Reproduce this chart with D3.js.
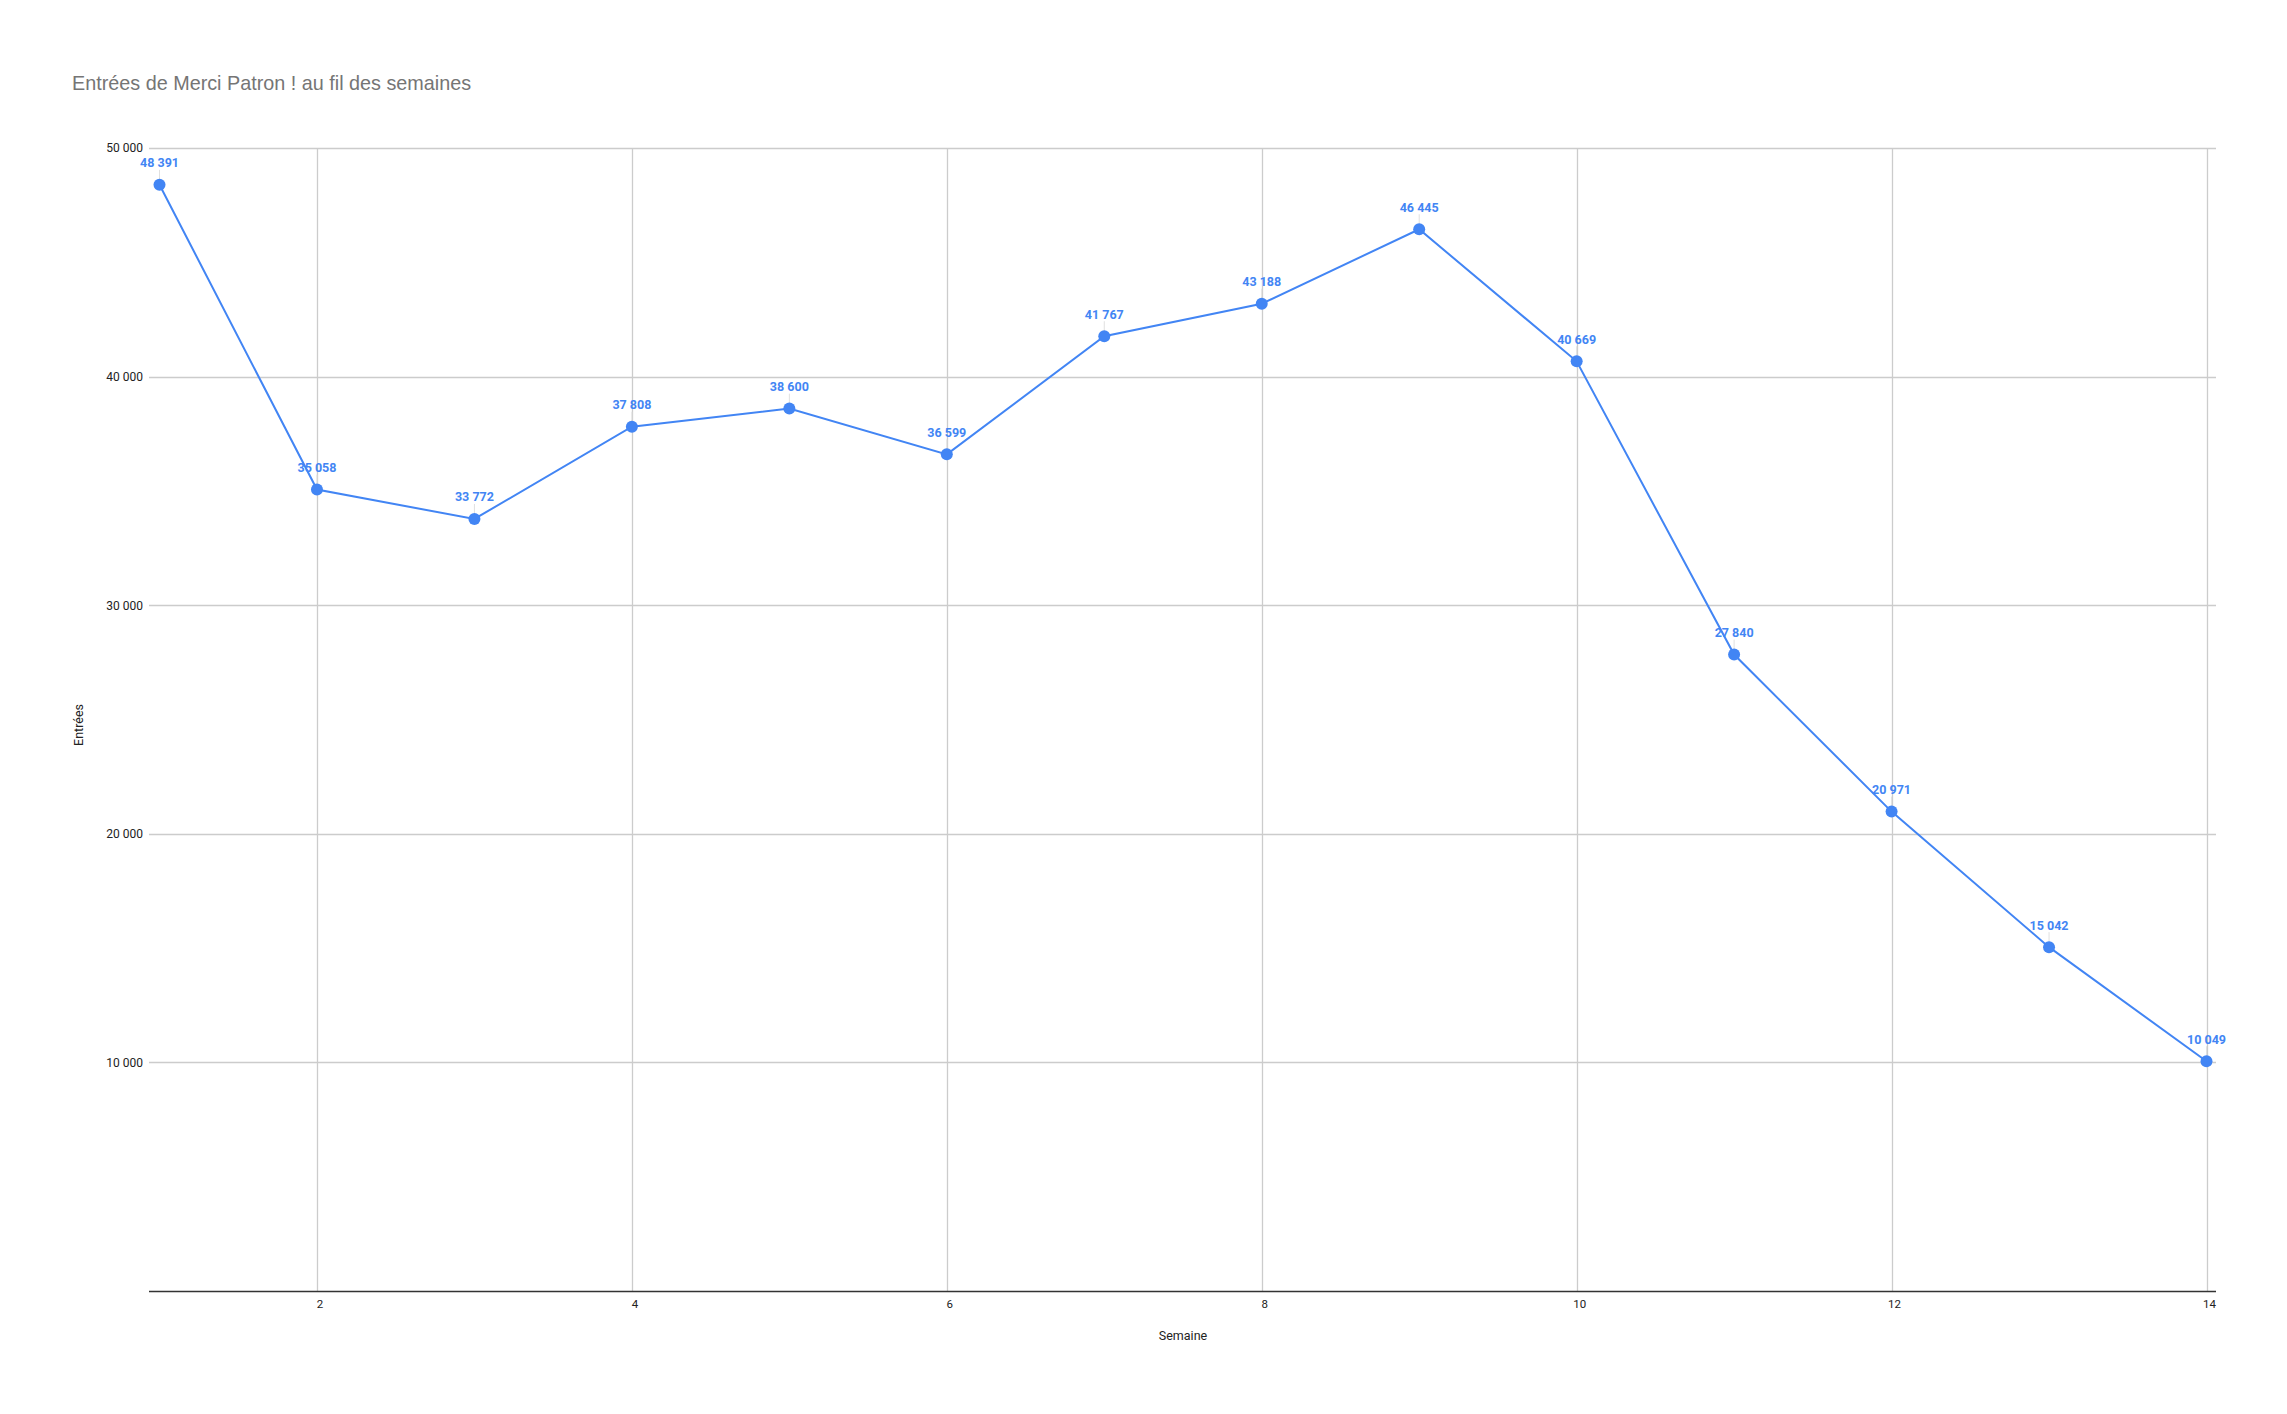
<!DOCTYPE html>
<html>
<head>
<meta charset="utf-8">
<script src="https://cdn.jsdelivr.net/npm/d3@7"></script>
<style>
  html, body { margin: 0; padding: 0; background: #fff; }
  svg { display: block; }
</style>
</head>
<body>
<svg id="chart" width="2287" height="1414"></svg>
<script>
const title = "Entrées de Merci Patron ! au fil des semaines";
const xTitle = "Semaine";
const yTitle = "Entrées";
const weeks = [1, 2, 3, 4, 5, 6, 7, 8, 9, 10, 11, 12, 13, 14];
const entries = [48391, 35058, 33772, 37808, 38600, 36599, 41767, 43188, 46445, 40669, 27840, 20971, 15042, 10049];
const xTicks = [2, 4, 6, 8, 10, 12, 14];
const yTicks = [10000, 20000, 30000, 40000, 50000];

(function () {
const svg = d3.select("#chart");
const W = 2287, H = 1414;
const pLeft = 149, pRight = 2216, pTop = 148, pBottom = 1291;
const blue = "#4285F4";

const loc = d3.formatLocale({ decimal: ",", thousands: " ", grouping: [3], currency: ["", " €"] });
const fmt = loc.format(",d");

const x = d3.scaleLinear().domain([1, 14]).range([159.5, 2206.5]);
const y = d3.scaleLinear().domain([0, 50000]).range([pBottom, pTop]);

svg.append("rect").attr("width", W).attr("height", H).attr("fill", "#fff");

svg.append("text")
  .attr("x", 72).attr("y", 90)
  .attr("font-family", "'Liberation Sans', Arial, sans-serif")
  .attr("font-size", 19.8)
  .attr("fill", "#757575")
  .text(title);

svg.append("g").selectAll("line").data(yTicks).join("line")
  .attr("x1", pLeft).attr("x2", pRight)
  .attr("y1", d => Math.round(y(d)) + 0.5).attr("y2", d => Math.round(y(d)) + 0.5)
  .attr("stroke", "#cccccc").attr("stroke-width", 1.3);

svg.append("g").selectAll("line").data(xTicks).join("line")
  .attr("x1", d => Math.round(x(d)) + 0.5).attr("x2", d => Math.round(x(d)) + 0.5)
  .attr("y1", pTop).attr("y2", pBottom)
  .attr("stroke", "#cccccc").attr("stroke-width", 1.3);

svg.append("line")
  .attr("x1", pLeft).attr("x2", pRight)
  .attr("y1", pBottom + 0.5).attr("y2", pBottom + 0.5)
  .attr("stroke", "#333333").attr("stroke-width", 1.6);

const yAxis = d3.axisLeft(y).tickValues(yTicks).tickFormat(fmt).tickSize(0).tickPadding(6);
const gy = svg.append("g").attr("transform", `translate(${pLeft},0)`).call(yAxis);
gy.select(".domain").remove();
gy.selectAll("text")
  .attr("font-family", "Roboto, sans-serif")
  .attr("font-size", 12)
  .attr("fill", "#222");

const xAxis = d3.axisBottom(x).tickValues(xTicks).tickFormat(d3.format("d")).tickSize(0).tickPadding(9);
const gx = svg.append("g").attr("transform", `translate(2.5,${pBottom})`).call(xAxis);
gx.select(".domain").remove();
gx.selectAll("text")
  .attr("font-family", "Roboto, sans-serif")
  .attr("font-size", 11.5)
  .attr("fill", "#222");

svg.append("text")
  .attr("x", 1183).attr("y", 1340)
  .attr("text-anchor", "middle")
  .attr("font-family", "Roboto, sans-serif")
  .attr("font-size", 12.5)
  .attr("fill", "#222")
  .text(xTitle);

svg.append("text")
  .attr("transform", "translate(83,725) rotate(-90)")
  .attr("text-anchor", "middle")
  .attr("font-family", "Roboto, sans-serif")
  .attr("font-size", 12.5)
  .attr("fill", "#222")
  .text(yTitle);

const data = weeks.map((w, i) => ({ w, v: entries[i] }));

svg.append("g").selectAll("line").data(data).join("line")
  .attr("x1", d => x(d.w)).attr("x2", d => x(d.w))
  .attr("y1", d => y(d.v) - 15).attr("y2", d => y(d.v) - 5)
  .attr("stroke", "#e0e0e0").attr("stroke-width", 1);

svg.append("path")
  .datum(data)
  .attr("fill", "none")
  .attr("stroke", blue)
  .attr("stroke-width", 2)
  .attr("d", d3.line().x(d => x(d.w)).y(d => y(d.v)));

svg.append("g").selectAll("circle").data(data).join("circle")
  .attr("cx", d => x(d.w)).attr("cy", d => y(d.v))
  .attr("r", 6)
  .attr("fill", blue);

svg.append("g").selectAll("text").data(data).join("text")
  .attr("x", d => x(d.w)).attr("y", d => y(d.v) - 17.5)
  .attr("text-anchor", "middle")
  .attr("font-family", "Roboto, sans-serif")
  .attr("font-weight", "bold")
  .attr("font-size", 12.5)
  .attr("fill", blue)
  .text(d => fmt(d.v));
})();
</script>
</body>
</html>
